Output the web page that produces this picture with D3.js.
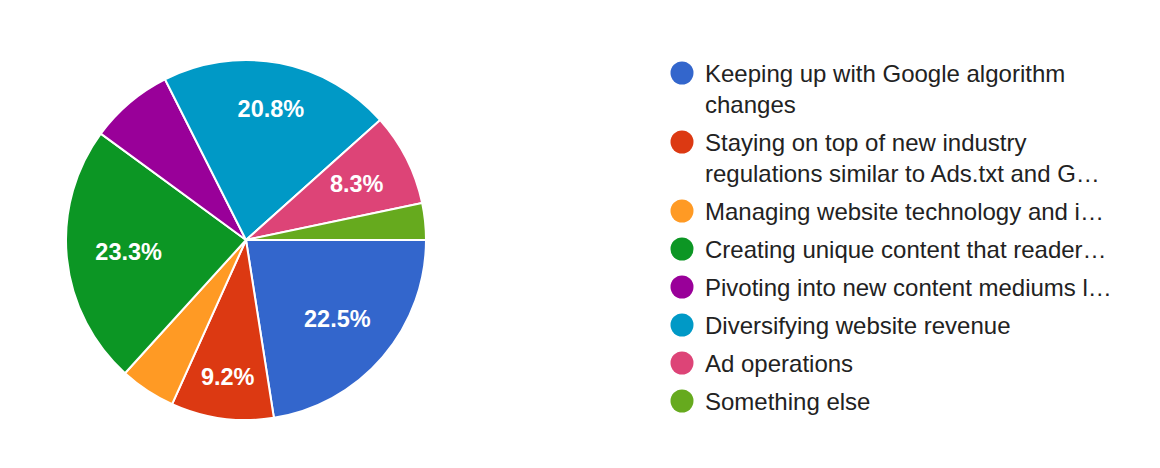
<!DOCTYPE html>
<html>
<head>
<meta charset="utf-8">
<script src="https://cdn.jsdelivr.net/npm/d3@7"></script>
<style>
  html, body { margin: 0; padding: 0; background: #fff; }
  svg { display: block; font-family: "Liberation Sans", Arial, sans-serif; }
</style>
</head>
<body>
<svg id="chart" width="1160" height="468"></svg>
<script>
// ---- data ----
const categories = [
  ["Keeping up with Google algorithm", "changes"],
  ["Staying on top of new industry", "regulations similar to Ads.txt and G…"],
  ["Managing website technology and i…"],
  ["Creating unique content that reader…"],
  ["Pivoting into new content mediums l…"],
  ["Diversifying website revenue"],
  ["Ad operations"],
  ["Something else"]
];
const values = [22.5, 9.2, 5.0, 23.3, 7.5, 20.8, 8.3, 3.3];
const colors = ["#3366cc", "#dc3912", "#ff9a24", "#0c9624", "#990099", "#0099c6", "#dd4477", "#66aa1e"];

// ---- layout ----
const svg = d3.select("#chart");
const cx = 246, cy = 240, r = 180;

const pie = d3.pie().sort(null).value(d => d)
  .startAngle(Math.PI / 2).endAngle(Math.PI / 2 + 2 * Math.PI);
const arcs = pie(values);
const arc = d3.arc().innerRadius(0).outerRadius(r);

const g = svg.append("g").attr("transform", `translate(${cx},${cy})`);
g.selectAll("path.slice").data(arcs).enter().append("path")
  .attr("class", "slice")
  .attr("d", arc)
  .attr("fill", (d, i) => colors[i])
  .attr("stroke", "#fff")
  .attr("stroke-width", 2)
  .attr("stroke-linejoin", "round");

const total = d3.sum(values);
const capH = 18;
const maxCorner = r * 0.845;
g.selectAll("text.lbl").data(arcs.filter(d => d.data / total >= 0.08)).enter().append("text")
  .attr("class", "lbl")
  .attr("text-anchor", "middle")
  .attr("dy", "0.36em")
  .attr("fill", "#fff")
  .attr("font-size", 23.5)
  .attr("font-weight", "bold")
  .text(d => d3.format(".1f")(d.data / total * 100) + "%")
  .each(function(d) {
    const w = this.getComputedTextLength();
    const a = (d.startAngle + d.endAngle) / 2; // d3 angle: 0 = up, clockwise
    const ux = Math.sin(a), uy = -Math.cos(a);
    const far = dist => {
      const x = ux * dist, y = uy * dist;
      let m = 0;
      for (const sx of [-1, 1]) for (const sy of [-1, 1]) {
        m = Math.max(m, Math.hypot(x + sx * w / 2, y + sy * capH / 2));
      }
      return m;
    };
    let lo = 0, hi = r;
    for (let k = 0; k < 40; k++) {
      const mid = (lo + hi) / 2;
      if (far(mid) > maxCorner) hi = mid; else lo = mid;
    }
    d3.select(this).attr("transform", `translate(${ux * lo},${uy * lo})`);
  });

// ---- legend ----
const legend = svg.append("g");
let y = 73;
categories.forEach((lines, i) => {
  const item = legend.append("g");
  item.append("circle").attr("cx", 682).attr("cy", y).attr("r", 11.5).attr("fill", colors[i]);
  lines.forEach((t, j) => {
    item.append("text")
      .attr("x", 705).attr("y", y + j * 31)
      .attr("dy", "0.36em")
      .attr("font-size", 24)
      .attr("fill", "#222")
      .text(t);
  });
  y += (lines.length - 1) * 31 + 38;
});
</script>
</body>
</html>
